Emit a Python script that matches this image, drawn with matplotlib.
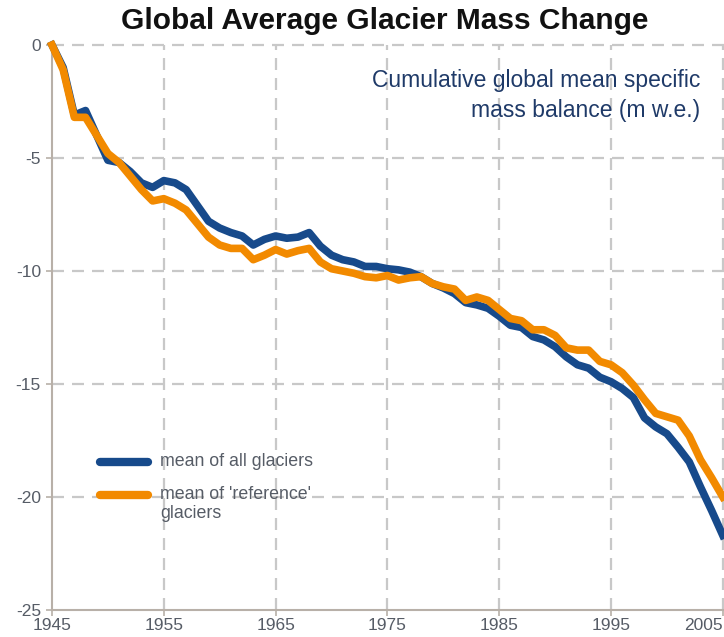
import matplotlib
matplotlib.use("Agg")
import matplotlib.pyplot as plt

years = list(range(1945, 2006))
all_glaciers = [0.0, -1.0, -3.1, -2.9, -4.0, -5.1, -5.2, -5.6, -6.1, -6.3,
                -6.0, -6.1, -6.4, -7.1, -7.8, -8.1, -8.3, -8.45, -8.85, -8.6,
                -8.45, -8.55, -8.5, -8.3, -8.9, -9.3, -9.5, -9.6, -9.8, -9.8,
                -9.9, -9.95, -10.05, -10.25, -10.55, -10.75, -11.0, -11.4, -11.5, -11.65,
                -12.0, -12.4, -12.5, -12.9, -13.05, -13.35, -13.8, -14.15, -14.3, -14.7,
                -14.9, -15.2, -15.6, -16.5, -16.9, -17.2, -17.8, -18.45, -19.55, -20.6,
                -21.7]
reference = [0.0, -1.1, -3.2, -3.2, -4.0, -4.8, -5.2, -5.8, -6.4, -6.9,
             -6.8, -7.0, -7.3, -7.9, -8.5, -8.85, -9.0, -9.0, -9.5, -9.3,
             -9.05, -9.25, -9.1, -9.0, -9.6, -9.9, -10.0, -10.1, -10.25, -10.3,
             -10.2, -10.4, -10.3, -10.25, -10.55, -10.7, -10.8, -11.3, -11.15, -11.3,
             -11.7, -12.1, -12.2, -12.6, -12.6, -12.85, -13.4, -13.5, -13.5, -14.0,
             -14.15, -14.5, -15.05, -15.7, -16.3, -16.45, -16.6, -17.3, -18.35, -19.15,
             -20.0]
x_ticks = [1945, 1955, 1965, 1975, 1985, 1995, 2005]
y_ticks = [0, -5, -10, -15, -20, -25]

BLUE = "#174a8b"
ORANGE = "#f28a00"
GRID = "#c8c8c8"
SPINE = "#b8b0a8"
TXT = "#565c66"

plt.rcParams['font.family'] = ['Liberation Sans', 'DejaVu Sans']

fig = plt.figure(figsize=(7.24, 6.37), dpi=100)
ax = fig.add_axes([52/724, 27/637, 676.4/724, 565/637])
ax.set_xlim(1945, 2005.5)
ax.set_ylim(-25, 0)

dash = (0, (5.4, 3.6))
for xv in x_ticks[1:]:
    ax.axvline(xv, color=GRID, lw=1.6, ls=dash, zorder=1, clip_on=False)
for yv in y_ticks[:-1]:
    ax.axhline(yv, color=GRID, lw=1.6, ls=dash, zorder=1, clip_on=False)

ax.plot(years, all_glaciers, color=BLUE, lw=5.5, solid_joinstyle='round', zorder=3, clip_on=False)
ax.plot(years, reference, color=ORANGE, lw=5.5, solid_joinstyle='round', zorder=4, clip_on=False)

for s in ['top', 'right']:
    ax.spines[s].set_visible(False)
for s in ['left', 'bottom']:
    ax.spines[s].set_color(SPINE)
    ax.spines[s].set_linewidth(1.5)

ax.set_xticks(x_ticks)
ax.set_yticks(y_ticks)
ax.set_yticklabels([str(v) for v in y_ticks])
ax.tick_params(axis='both', colors=SPINE, labelcolor=TXT, labelsize=12.5, length=4, width=1.2)
ax.tick_params(axis='x', pad=2)
ax.tick_params(axis='y', pad=4)
xl = ax.get_xticklabels()
xl[-1].set_horizontalalignment('right')

fig.text(385/724, 1 - 21/637, "Global Average Glacier Mass Change", ha='center', va='center',
         fontsize=21.5, fontweight='bold', color='#111111')
fig.text(700/724, 1 - 80/637, "Cumulative global mean specific", ha='right', va='center',
         fontsize=16.5, color='#1f3a68')
fig.text(700/724, 1 - 110/637, "mass balance (m w.e.)", ha='right', va='center',
         fontsize=16.5, color='#1f3a68')

# legend
leg_x0, leg_x1 = 1949.3, 1953.6
ax.plot([leg_x0, leg_x1], [-18.45, -18.45], color=BLUE, lw=6, solid_capstyle='round', zorder=5)
ax.plot([leg_x0, leg_x1], [-19.9, -19.9], color=ORANGE, lw=6, solid_capstyle='round', zorder=5)
ax.text(1954.7, -18.45, "mean of all glaciers", ha='left', va='center', fontsize=12.8, color=TXT)
ax.text(1954.7, -19.9, "mean of 'reference'", ha='left', va='center', fontsize=12.8, color=TXT)
ax.text(1954.7, -20.75, "glaciers", ha='left', va='center', fontsize=12.8, color=TXT)

fig.savefig("out.png", dpi=100)
